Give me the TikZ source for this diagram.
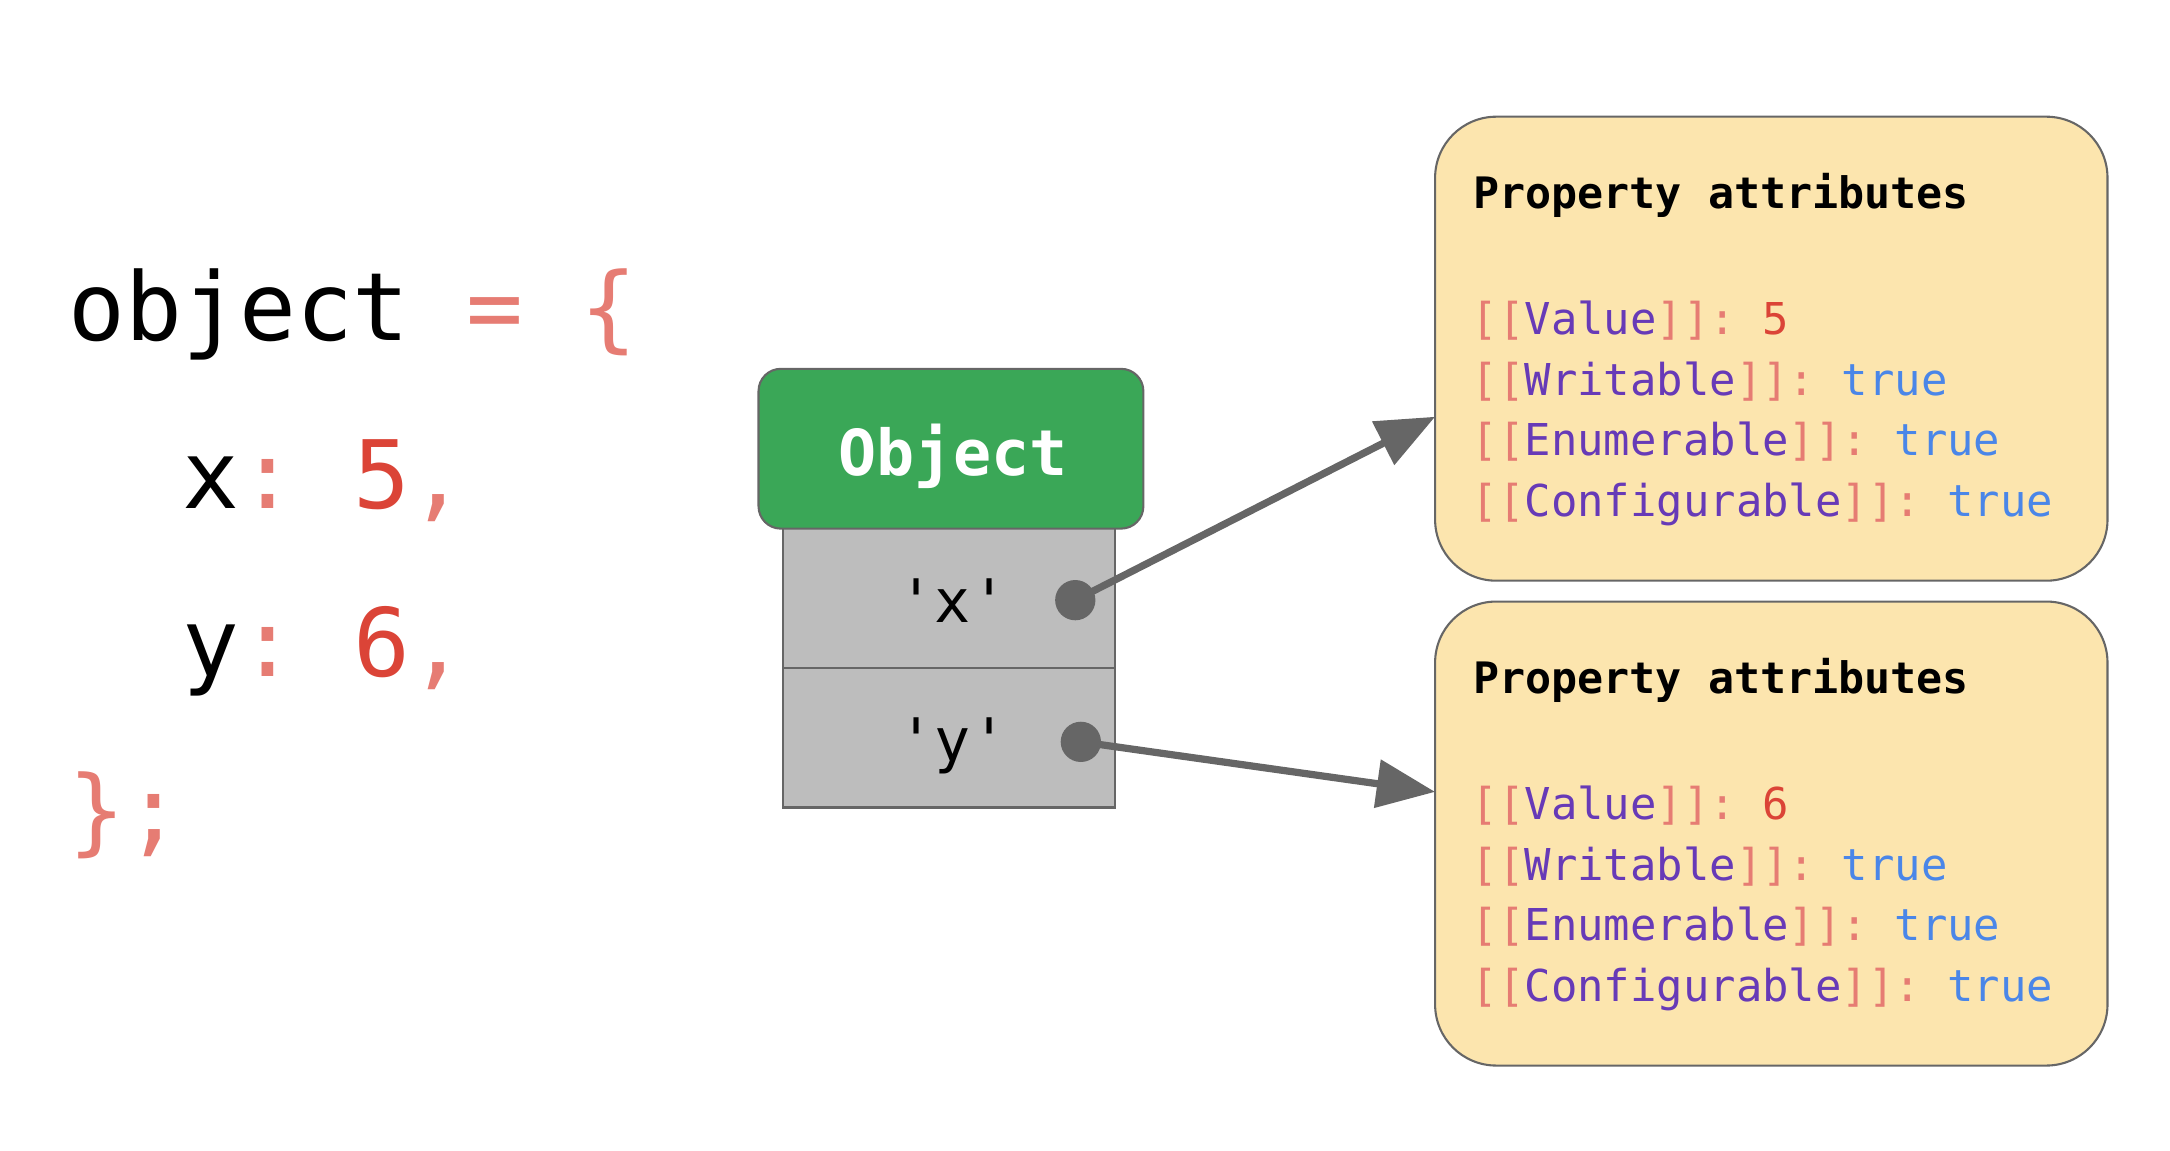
\documentclass[tikz,border=0pt]{standalone}
\usepackage{fontspec}
\setmonofont{DejaVu Sans Mono}
\usetikzlibrary{arrows.meta}
\definecolor{salmon}{HTML}{E67C73}
\definecolor{numred}{HTML}{DB4437}
\definecolor{purp}{HTML}{673AB7}
\definecolor{tblue}{HTML}{4A86E8}
\definecolor{gfill}{HTML}{3AA757}
\definecolor{bgray}{HTML}{666666}
\definecolor{cellgray}{HTML}{BDBDBD}
\definecolor{propfill}{HTML}{FCE5AE}
\newcommand\attrline[3]{\textcolor{salmon}{[[}\textcolor{purp}{#1}\textcolor{salmon}{]]:} \textcolor{#3}{#2}}
\tikzset{
  code/.style={anchor=base west, inner sep=0pt, font=\ttfamily\fontsize{34}{40}\selectfont},
  headbox/.style={draw=bgray, line width=0.75pt, fill=gfill, rounded corners=8pt, minimum width=138.5pt, minimum height=57.5pt, inner sep=0pt},
  headtext/.style={anchor=base, inner sep=0pt, text=white, font=\ttfamily\bfseries\fontsize{22.8}{26}\selectfont},
  cellbox/.style={draw=bgray, line width=0.75pt, fill=cellgray, minimum width=119.5pt, minimum height=50.25pt, inner sep=0pt},
  celltext/.style={anchor=base, inner sep=0pt, font=\ttfamily\fontsize{21.6}{26}\selectfont},
  dotnode/.style={circle, fill=bgray, minimum size=14.5pt, inner sep=0pt},
  propbox/.style={draw=bgray, line width=0.75pt, fill=propfill, rounded corners=22pt, minimum width=242pt, minimum height=167pt, inner sep=0pt},
  proptitle/.style={anchor=base west, inner sep=0pt, font=\ttfamily\bfseries\fontsize{15.6}{18}\selectfont},
  proptext/.style={anchor=base west, inner sep=0pt, font=\ttfamily\fontsize{15.8}{18}\selectfont},
  arr/.style={draw=bgray, line width=2.6pt, -{Triangle[length=21pt, width=17pt]}}
}
\begin{document}
\begin{tikzpicture}[x=0.5pt,y=-0.5pt]
\useasboundingbox (0,0) rectangle (1562,828);
% code on the left
\node[code] (l1) at (49,245) {object \textcolor{salmon}{= \{}};
\node[code] (l2) at (49,366) {\phantom{xx}x\textcolor{salmon}{:} \textcolor{numred}{5}\textcolor{salmon}{,}};
\node[code] (l3) at (49,487) {\phantom{xx}y\textcolor{salmon}{:} \textcolor{numred}{6}\textcolor{salmon}{,}};
\node[code] (l4) at (49,607) {\textcolor{salmon}{\};}};
% object
\node[cellbox] (cx) at (683,430.5) {};
\node[cellbox] (cy) at (683,531) {};
\node[headbox] (head) at (684.5,323) {};
\node[headtext] (headt) at (686,342) {Object};
\node[celltext] (tx) at (686,448) {\char"27 x\char"27};
\node[celltext] (ty) at (686,548) {\char"27 y\char"27};
% property boxes
\node[propbox] (b1) at (1275,251) {};
\node[propbox] (b2) at (1275,600) {};
\node[proptitle] (b1t) at (1060,150) {Property attributes};
\node[proptext] (b1a) at (1059,241) {\attrline{Value}{5}{numred}};
\node[proptext] (b1b) at (1059,285) {\attrline{Writable}{true}{tblue}};
\node[proptext] (b1c) at (1059,328) {\attrline{Enumerable}{true}{tblue}};
\node[proptext] (b1d) at (1059,372) {\attrline{Configurable}{true}{tblue}};
\node[proptitle] (b2t) at (1060,499) {Property attributes};
\node[proptext] (b2a) at (1059,590) {\attrline{Value}{6}{numred}};
\node[proptext] (b2b) at (1059,634) {\attrline{Writable}{true}{tblue}};
\node[proptext] (b2c) at (1059,677) {\attrline{Enumerable}{true}{tblue}};
\node[proptext] (b2d) at (1059,721) {\attrline{Configurable}{true}{tblue}};
% dots and arrows
\node[dotnode] (dx) at (774,432) {};
\node[dotnode] (dy) at (778,534) {};
\coordinate (t1) at (1033,300);
\coordinate (t2) at (1033,570);
\draw[arr] (dx.center) -- (t1);
\draw[arr] (dy.center) -- (t2);
\end{tikzpicture}
\end{document}
